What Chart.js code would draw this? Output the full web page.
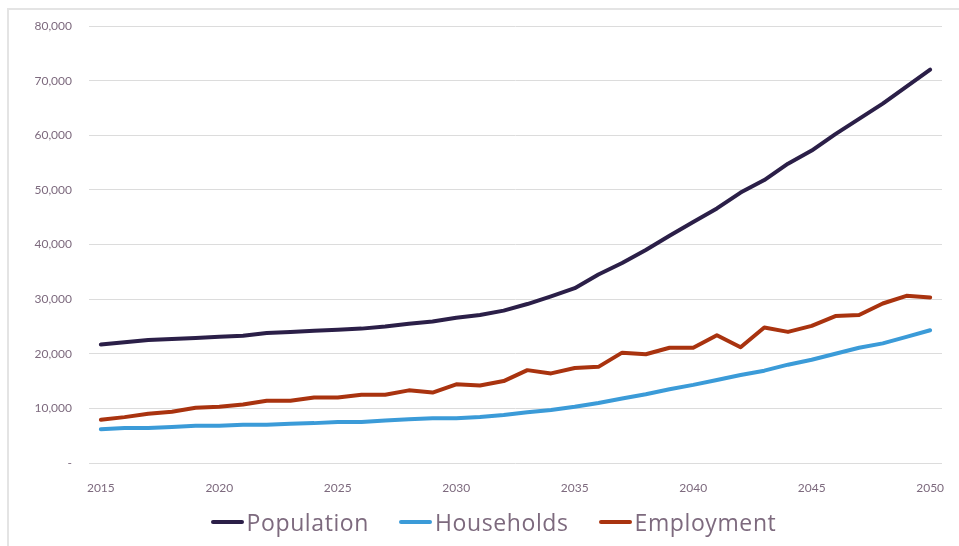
<!DOCTYPE html>
<html>
<head>
<meta charset="utf-8">
<script src="https://cdn.jsdelivr.net/npm/chart.js@4.4.0/dist/chart.umd.min.js"></script>
<style>
  html, body { margin: 0; padding: 0; background: #fff; }
  #wrap { position: relative; width: 959px; height: 546px; overflow: hidden; }
  #frame {
    position: absolute; left: 7px; top: 8px; width: 1000px; height: 600px;
    border-top: 2px solid #e4e4e4; border-left: 2px solid #e4e4e4;
  }
  #grafico { position: absolute; left: 0; top: 0; }
  #legenda {
    position: absolute; left: 28px; top: 506px; width: 931px; height: 32px;
    display: flex; justify-content: center; align-items: center;
    font-family: "Open Sans", Lato, sans-serif; font-size: 23px; letter-spacing: 0.6px;
    color: #7d6a7e;
  }
  .item { display: flex; align-items: center; margin: 0 15px; }
  .marca { width: 33px; height: 4px; border-radius: 2px; margin-right: 3px; }
</style>
</head>
<body>
<div id="wrap">
  <div id="frame"></div>
  <canvas id="grafico" width="959" height="546"></canvas>
  <div id="legenda"></div>
</div>
<script>
// Anos da série (2015 a 2050)
const anos = ['2015','2016','2017','2018','2019','2020','2021','2022','2023','2024',
              '2025','2026','2027','2028','2029','2030','2031','2032','2033','2034',
              '2035','2036','2037','2038','2039','2040','2041','2042','2043','2044',
              '2045','2046','2047','2048','2049','2050'];

const populacao = [21700, 22100, 22500, 22700, 22900, 23100, 23300, 23800, 24000, 24200,
                   24400, 24600, 25000, 25500, 25900, 26600, 27100, 27900, 29100, 30500,
                   32000, 34500, 36600, 39000, 41600, 44100, 46600, 49500, 51800, 54800,
                   57200, 60200, 63000, 65800, 68900, 72000];

const domicilios = [6200, 6400, 6400, 6600, 6800, 6800, 7000, 7000, 7200, 7300,
                    7500, 7500, 7800, 8000, 8200, 8200, 8400, 8800, 9300, 9700,
                    10300, 11000, 11800, 12600, 13500, 14300, 15200, 16100, 16900, 18000,
                    18900, 20000, 21100, 21900, 23100, 24300];

const emprego = [7900, 8400, 9000, 9400, 10100, 10300, 10700, 11400, 11400, 12000,
                 12000, 12500, 12500, 13300, 12900, 14400, 14200, 15000, 17000, 16400,
                 17400, 17600, 20200, 19900, 21100, 21100, 23400, 21200, 24800, 24000,
                 25100, 26900, 27100, 29200, 30600, 30300];

const series = [
    { label: 'Population', data: populacao, cor: '#2b1f48' },
    { label: 'Households', data: domicilios, cor: '#3b9bd8' },
    { label: 'Employment', data: emprego, cor: '#a9330f' }
];

const corTexto = '#7d6a7e';
const fonteEixo = { family: 'Lato, "Open Sans", sans-serif', size: 12 };

const ctx = document.getElementById('grafico').getContext('2d');

new Chart(ctx, {
    type: 'line',
    data: {
        labels: anos,
        datasets: series.map(s => ({
            label: s.label,
            data: s.data,
            borderColor: s.cor,
            backgroundColor: s.cor,
            borderWidth: 4,
            borderCapStyle: 'round',
            borderJoinStyle: 'round',
            pointRadius: 0,
            tension: 0
        }))
    },
    options: {
        responsive: false,
        animation: false,
        layout: { padding: { top: 26, right: 17, bottom: 53, left: 0 } },
        plugins: {
            legend: { display: false },
            tooltip: { enabled: false }
        },
        scales: {
            x: {
                offset: true,
                grid: { display: false },
                border: { display: false },
                ticks: {
                    autoSkip: false,
                    maxRotation: 0,
                    padding: 10,
                    color: corTexto,
                    font: fonteEixo,
                    callback: (v, i) => i % 5 === 0 ? anos[i] : ''
                },
                afterFit: s => { s.height = 30; }
            },
            y: {
                min: 0,
                max: 80000,
                grid: { color: '#dcdcdc', lineWidth: 1, drawTicks: false },
                border: { display: false },
                ticks: {
                    stepSize: 10000,
                    padding: 17,
                    color: corTexto,
                    font: fonteEixo,
                    callback: v => v === 0 ? '-' : v.toLocaleString('en-US')
                },
                afterFit: s => { s.width = 89; }
            }
        }
    }
});

// Legenda em HTML com marcador de linha
const legenda = document.getElementById('legenda');
series.forEach(s => {
    const item = document.createElement('div');
    item.className = 'item';
    item.innerHTML = `<span class="marca" style="background:${s.cor}"></span><span>${s.label}</span>`;
    legenda.appendChild(item);
});
</script>
</body>
</html>
